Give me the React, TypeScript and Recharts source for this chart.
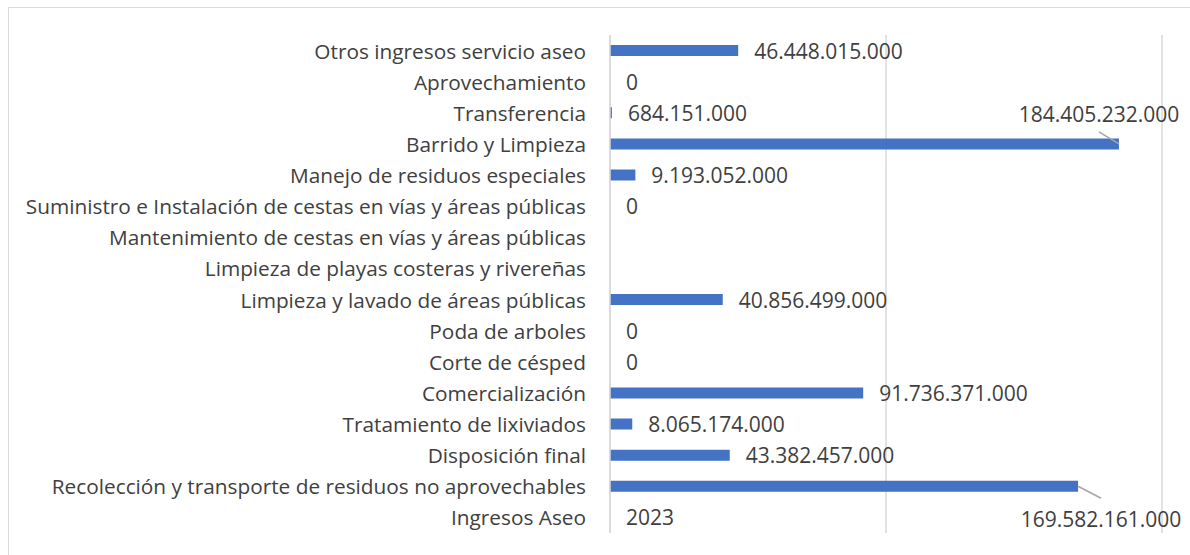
import React from 'react';
import { BarChart, Bar, XAxis, YAxis, CartesianGrid, LabelList } from 'recharts';

const categories: string[] = [
  'Otros ingresos servicio aseo',
  'Aprovechamiento',
  'Transferencia',
  'Barrido y Limpieza',
  'Manejo de residuos especiales',
  'Suministro e Instalación de cestas en vías y áreas públicas',
  'Mantenimiento de cestas en vías y áreas públicas',
  'Limpieza de playas costeras y rivereñas',
  'Limpieza y lavado de áreas públicas',
  'Poda de arboles',
  'Corte de césped',
  'Comercialización',
  'Tratamiento de lixiviados',
  'Disposición final',
  'Recolección y transporte de residuos no aprovechables',
  'Ingresos Aseo',
];

const values: (number | null)[] = [
  46448015000,
  0,
  684151000,
  184405232000,
  9193052000,
  0,
  null,
  null,
  40856499000,
  0,
  0,
  91736371000,
  8065174000,
  43382457000,
  169582161000,
  2023,
];

const xTicks: number[] = [0, 100000000000, 200000000000];

const data = categories.map((name, i) => ({ name, value: values[i] }));

const FONT = '"Open Sans", "Noto Sans", sans-serif';
const TICK_SIZE = 20.8;
const LABEL_SIZE = 21;
const TEXT_COLOR = '#404040';
const GRID = '#d9d9d9';
const BAR = '#4472C4';

const fmt = (v: number): string => {
  if (Math.abs(v) < 10000) return String(v);
  return Math.round(v)
    .toString()
    .replace(/\B(?=(\d{3})+(?!\d))/g, '.');
};

const nameOfValue = (v: number): string => {
  const i = values.indexOf(v);
  return i >= 0 ? categories[i] : '';
};

const CategoryTick = (props: any) => {
  const { x, y, payload } = props;
  return (
    <text
      x={x}
      y={y}
      textAnchor="end"
      dominantBaseline="central"
      fill={TEXT_COLOR}
      fontFamily={FONT}
      fontSize={TICK_SIZE}
    >
      {payload.value}
    </text>
  );
};

const ValueLabel = (props: any) => {
  const { x, y, width, height, value } = props;
  if (value === null || value === undefined) return null;
  const end = Number(x) + Number(width);
  const cy = Number(y) + Number(height) / 2;
  const name = nameOfValue(Number(value));
  const common = {
    fill: TEXT_COLOR,
    fontFamily: FONT,
    fontSize: LABEL_SIZE,
    dominantBaseline: 'central' as const,
  };
  if (name === 'Barrido y Limpieza') {
    return (
      <g>
        <line x1={end - 20} y1={cy - 12} x2={end} y2={cy} stroke="#a6a6a6" strokeWidth={1.5} />
        <text {...common} x={end - 20} y={cy - 30} textAnchor="middle">
          {fmt(value)}
        </text>
      </g>
    );
  }
  if (name === 'Recolección y transporte de residuos no aprovechables') {
    return (
      <g>
        <line x1={end} y1={cy} x2={end + 23} y2={cy + 12} stroke="#a6a6a6" strokeWidth={1.5} />
        <text {...common} x={end + 23} y={cy + 33} textAnchor="middle">
          {fmt(value)}
        </text>
      </g>
    );
  }
  return (
    <text {...common} x={end + 16} y={cy} textAnchor="start">
      {fmt(value)}
    </text>
  );
};

export default function App() {
  return (
    <div style={{ position: 'relative', width: 1190, height: 555, overflow: 'hidden', background: '#fff' }}>
      <style>{`body{margin:0;overflow:hidden;}`}</style>
      <div
        style={{
          position: 'absolute',
          left: 8,
          top: 7,
          width: 1300,
          height: 700,
          borderLeft: `1px solid ${GRID}`,
          borderTop: `1px solid ${GRID}`,
        }}
      />
      <div style={{ position: 'absolute', left: 0, top: 0 }}>
        <BarChart
          width={1190}
          height={555}
          data={data}
          layout="vertical"
          margin={{ top: 35, right: 28, bottom: 22, left: 0 }}
          barCategoryGap={0}
        >
          <CartesianGrid horizontal={false} vertical={true} stroke={GRID} strokeWidth={1.5} />
          <XAxis type="number" domain={[0, 200000000000]} ticks={xTicks} hide />
          <YAxis
            type="category"
            dataKey="name"
            width={610}
            axisLine={{ stroke: GRID, strokeWidth: 1.5 }}
            tickLine={false}
            tickSize={0}
            tickMargin={24}
            tick={<CategoryTick />}
            interval={0}
          />
          <Bar
            dataKey="value"
            fill={BAR}
            barSize={11}
            minPointSize={(v: any) => (v === 0 ? 0.01 : 0)}
            isAnimationActive={false}
          >
            <LabelList dataKey="value" content={<ValueLabel />} />
          </Bar>
        </BarChart>
      </div>
    </div>
  );
}
